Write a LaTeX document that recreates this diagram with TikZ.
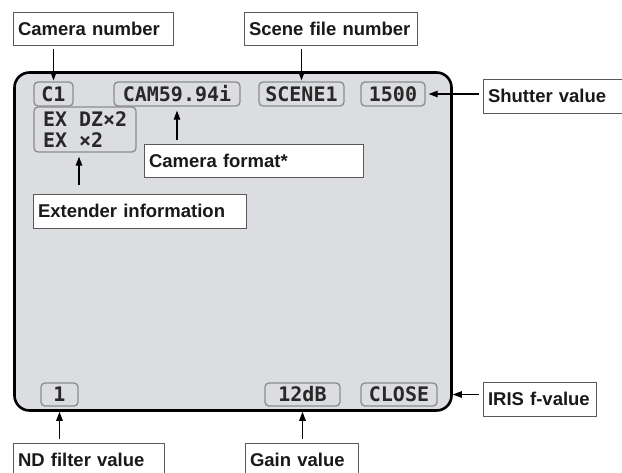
\documentclass[tikz,border=0pt]{standalone}
\usepackage{fontspec}
\setmainfont{Liberation Sans}
\newfontfamily\osdfont{DejaVu Sans Mono}
\usetikzlibrary{arrows.meta}
\definecolor{scrfill}{RGB}{220,221,224}
\definecolor{osdline}{RGB}{140,140,140}
\definecolor{osdtext}{RGB}{40,40,40}
\definecolor{lblline}{RGB}{90,90,90}
\definecolor{lbltext}{RGB}{25,25,25}
\newcommand\osdgap{\hspace*{0.602em}}
\begin{document}
\begin{tikzpicture}[x=1pt,y=-1pt,
  lbl/.style={draw=lblline, fill=white, line width=0.9pt, inner xsep=5pt, inner ysep=0pt, align=left, font=\fontsize{18.5}{22}\selectfont\bfseries, text=lbltext},
  osd/.style={draw=osdline, line width=1.3pt, rounded corners=4pt, inner sep=0pt, font=\fontsize{20}{21}\selectfont\osdfont\bfseries, text=osdtext, minimum height=24pt},
  arr/.style={draw=black, line width=1.1pt, -{Triangle[length=9pt,width=6.5pt]}, shorten <=4pt},
  screen/.style={draw=black, line width=2.6pt, fill=scrfill, rounded corners=15pt, inner sep=0pt}
]
\useasboundingbox (0,0) rectangle (622,472);
% screen
\node[screen, minimum width=437pt, minimum height=338pt] (scr) at (233,241.5) {};
% OSD items
\node[osd, minimum width=39pt] (c1) at (53.5,94) {C1};
\node[osd, minimum width=126pt] (cam) at (177,94) {CAM59.94i};
\node[osd, minimum width=85pt] (scene) at (301.5,94) {SCENE1};
\node[osd, minimum width=64pt] (shut) at (393,94) {1500};
\node[osd, align=left, text width=84pt, inner xsep=9pt, minimum height=45pt] (ex) at (85,129.5) {EX\osdgap DZ×2\\EX\osdgap ×2};
\node[osd, minimum width=37pt, minimum height=23pt] (nd) at (59.5,394.5) {1};
\node[osd, minimum width=75pt, minimum height=23pt] (gain) at (302.5,394.5) {12dB};
\node[osd, minimum width=76pt, minimum height=23pt] (iris) at (399,394.5) {CLOSE};
\coordinate (exa) at ([xshift=-6pt]ex.south);
% labels
\node[lbl, text width=150pt, minimum height=33pt] (camlbl) at (93,28.5) {Camera number};
\node[lbl, text width=163pt, minimum height=33pt] (scenelbl) at (330.5,28.5) {Scene file number};
\node[lbl, text width=137pt, minimum height=34pt] (shutlbl) at (556.5,96) {Shutter value};
\node[lbl, text width=209pt, minimum height=33pt] (fmtlbl) at (253.5,160.5) {Camera format*};
\node[lbl, text width=203pt, minimum height=34pt] (extlbl) at (139.5,211) {Extender information};
\node[lbl, text width=103pt, minimum height=34pt] (irislbl) at (539.5,399) {IRIS f-value};
\node[lbl, text width=141pt, minimum height=34pt] (ndlbl) at (88.5,460) {ND filter value};
\node[lbl, text width=103pt, minimum height=34pt] (gainlbl) at (301.5,460) {Gain value};
% arrows
\draw[arr, shorten >=1pt] (camlbl.south -| c1.north) -- (c1.north);
\draw[arr, shorten >=1pt] (scenelbl.south -| scene.north) -- (scene.north);
\draw[arr, shorten >=3pt] (shutlbl.west |- shut.east) -- (shut.east);
\draw[arr, shorten >=4pt] (fmtlbl.north -| cam.south) -- (cam.south);
\draw[arr, shorten <=9pt, shorten >=4pt] (extlbl.north -| exa) -- (exa);
\draw[arr] (ndlbl.north -| nd.south) -- (nd.south |- scr.south);
\draw[arr] (gainlbl.north -| gain.south) -- (gain.south |- scr.south);
\draw[arr] (irislbl.west |- iris.east) -- (iris.east -| scr.east);
\end{tikzpicture}
\end{document}
